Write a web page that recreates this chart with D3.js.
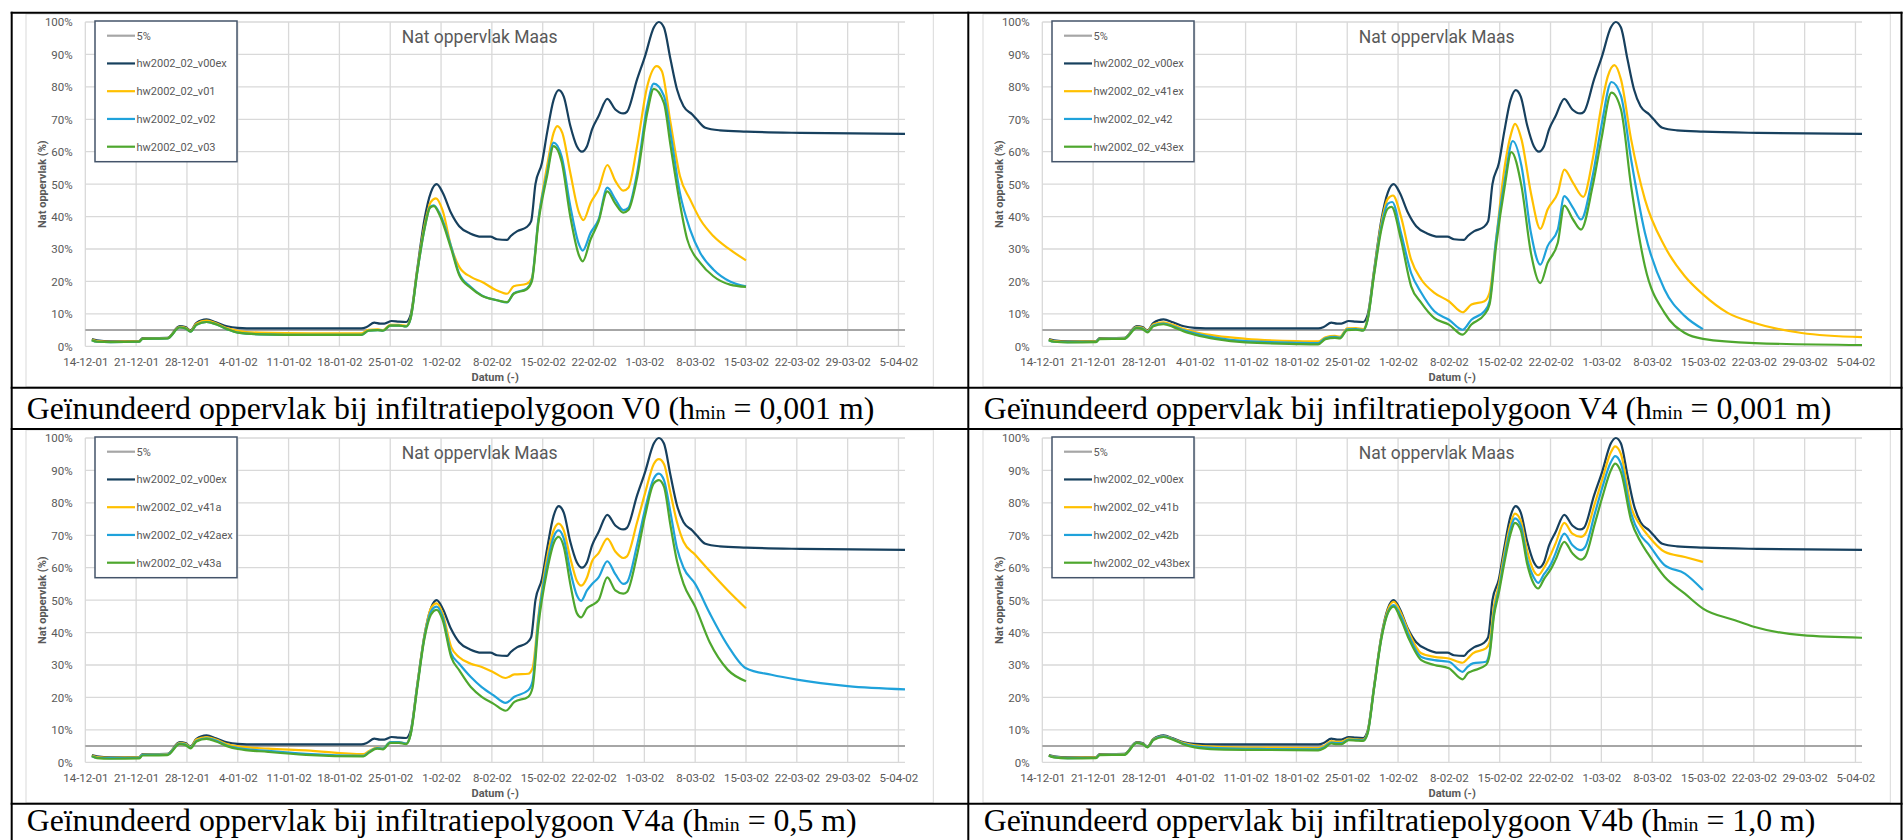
<!DOCTYPE html>
<html>
<head>
<meta charset="utf-8">
<script src="https://cdn.jsdelivr.net/npm/d3@7"></script>
<style>
  html, body { margin: 0; padding: 0; background: #ffffff; overflow: hidden; }
  svg { display: block; }
</style>
</head>
<body>
<svg id="fig" width="1903" height="840"></svg>
<script>
// ---- data: day offsets from 14-12-2001, value = wetted area in % ----
const startDate = "2001-12-14";
const lastDay = 112.9;

const tickLabels = ["14-12-01","21-12-01","28-12-01","4-01-02","11-01-02","18-01-02","25-01-02",
  "1-02-02","8-02-02","15-02-02","22-02-02","1-03-02","8-03-02","15-03-02","22-03-02","29-03-02","5-04-02"];
const yTicks = [0, 10, 20, 30, 40, 50, 60, 70, 80, 90, 100];

const threshold = [[0, 5], [112.9, 5]];

const v00ex = [[0.9,2.2],[1.6,1.8],[3.5,1.5],[7.4,1.6],[7.9,2.5],[11.3,2.6],[13,6.2],[13.8,5.9],[14.5,4.9],
  [15.3,7.2],[16.7,8.3],[18,7.4],[19.5,6.2],[21,5.7],[24,5.5],[31,5.5],[38,5.5],[38.8,6],[39.8,7.3],[40.6,7],
  [41.2,7],[42.2,7.8],[43.2,7.6],[44.2,7.5],[44.8,9.6],[45.7,23.5],[46.7,39],[47.6,47.5],[48.4,50],[49.2,47.5],
  [50.4,41],[51.5,37],[53,34.8],[54.6,33.8],[55.8,33.8],[56.7,33],[58.1,32.8],[58.6,34],[59.5,35.5],[60.8,36.8],
  [61.4,38.5],[62,50],[62.9,56.6],[63.6,65.8],[64.5,76],[65.2,79],[65.9,77],[66.8,68],[67.7,61.7],[68.4,60],
  [69.1,61.7],[69.8,66.9],[70.7,71],[71.9,76.3],[73,73],[74.1,71.8],[74.6,72.3],[76,82.3],[77.1,89.5],[78.3,98.3],
  [79,100],[79.7,98.3],[80.6,88.5],[81.5,79.2],[82.4,74],[83.6,71.5],[84.2,70],[85.4,67.4],[87.4,66.6],[91.1,66.2],
  [98.5,65.8],[112.9,65.5]];

// V0
const v01 = [[0.9,2.1],[1.6,1.6],[3.5,1.4],[7.4,1.5],[7.9,2.4],[11.3,2.5],[13,6],[13.8,5.7],[14.5,4.7],[15.3,7],
  [16.7,7.9],[18,7.1],[19.5,5.6],[21,4.8],[24,4.2],[31,4],[38,4],[39,5.1],[40.3,5.2],[41,5],[42,6.6],[43.2,6.6],
  [44.2,6.3],[44.8,8.8],[45.7,23],[46.7,37],[47.6,44.5],[48.3,45.6],[49.2,42],[50.4,30.7],[51.5,24.5],[53.1,21.4],
  [54.6,19.9],[56.7,17.2],[58.1,16.2],[59,18.5],[60.8,19.3],[61.5,21],[62.4,39],[63.6,55.5],[64.5,65.8],[65,67.9],
  [65.7,65.8],[66.8,53.5],[68,41.2],[68.6,38.9],[69.6,44.2],[70.7,48.4],[71.9,55.9],[73,51],[74.1,48],[74.8,48.9],
  [76,61.7],[77.4,80.2],[78.7,86.4],[79.4,84.9],[80.6,69],[81.9,52.5],[83.3,45.3],[84.7,39.1],[86.5,34],[88.8,29.8],[91,26.5]];
const v02 = [[0.9,1.9],[1.6,1.4],[3.5,1.3],[7.4,1.4],[7.9,2.3],[11.3,2.4],[13,5.8],[13.8,5.5],[14.5,4.5],[15.3,6.6],
  [16.7,7.5],[18,6.8],[19.5,5.3],[21,4.2],[24,3.7],[31,3.5],[38,3.5],[39,4.8],[40.3,5],[41,4.8],[42,6.4],[43.2,6.4],
  [44.2,6.1],[44.8,8.5],[45.7,22.5],[46.7,36],[47.5,43],[48,43.5],[48.8,41],[50.4,30.7],[51.5,22.4],[53.1,18.3],
  [54.6,15.7],[56.7,14.2],[58.1,13.5],[59,16.3],[60.8,17.8],[61.5,20.5],[62.4,39],[63.6,53.5],[64.5,62.8],[65.6,58.6],
  [66.8,43.2],[68,31.4],[68.5,29.5],[69.6,35],[70.7,39.1],[71.9,48.9],[73,45.3],[74.1,42],[74.8,42.7],[76,53.5],
  [77.4,74],[78.3,81],[79.7,77.2],[80.6,65.8],[81.9,47.3],[83.3,36],[84.7,28.8],[86.5,23.7],[88.8,20],[91,18.5]];
const v03 = [[0.9,1.9],[1.6,1.4],[3.5,1.3],[7.4,1.4],[7.9,2.3],[11.3,2.4],[13,5.8],[13.8,5.5],[14.5,4.5],[15.3,6.6],
  [16.7,7.5],[18,6.8],[19.5,5.3],[21,4.2],[24,3.7],[31,3.5],[38,3.5],[39,4.8],[40.3,5],[41,4.8],[42,6.4],[43.2,6.4],
  [44.2,6.1],[44.8,8.5],[45.7,22.5],[46.7,36],[47.5,42.8],[48,43.2],[48.8,40.5],[50.4,30],[51.5,22],[53.1,18],
  [54.6,15.6],[56.7,14.2],[58.1,13.6],[59,16.2],[60.8,17.6],[61.5,20],[62.4,38],[63.6,52.5],[64.5,61.7],[65.6,57],
  [66.8,40],[68,28],[68.5,26.2],[69.6,33],[70.7,38.5],[71.9,47.8],[73,44],[74.1,41.2],[74.8,42],[76,52],
  [77.4,72],[78.3,79.4],[79.7,75],[80.6,62],[81.9,44],[82.9,33],[84.7,25.7],[86.5,21.6],[88.8,19],[91,18.3]];

// V4
const v41ex = [[0.9,2.1],[1.6,1.6],[3.5,1.4],[7.4,1.5],[7.9,2.4],[11.3,2.5],[13,6],[13.8,5.7],[14.5,4.7],[15.3,6.8],
  [16.7,7.4],[18,6.6],[19.5,5.3],[21,4.4],[24,3.2],[28,2.3],[35,1.6],[38,1.5],[39,2.8],[40.3,3.2],[41,3],[42,5.5],
  [43.2,5.6],[44.2,5.3],[44.8,8.5],[45.7,23],[46.7,38],[47.6,45.5],[48.3,46.5],[49.4,40],[50.8,26.7],[52.2,20.6],
  [54,16.5],[56,13.9],[57.9,10.5],[59.1,12.9],[60.9,13.9],[61.6,16.5],[62.5,32.9],[63.7,55.6],[64.6,65.8],[65.1,68.6],
  [66,63.8],[67.3,47.3],[68.6,36.2],[69.6,42.2],[71,47.3],[71.9,54.5],[73.1,50.4],[74.5,46.1],[75.8,57.6],[77,74],
  [77.9,83.3],[78.8,86.7],[79.7,82.3],[81.1,63.8],[83,45.3],[85.7,30.9],[88.5,21.6],[91,16],[94.4,10.3],[98.1,7.2],
  [104.6,4.1],[112.9,2.8]];
const v42 = [[0.9,1.9],[1.6,1.4],[3.5,1.3],[7.4,1.4],[7.9,2.3],[11.3,2.4],[13,5.8],[13.8,5.5],[14.5,4.5],[15.3,6.4],
  [16.7,7],[18,6.2],[19.5,4.9],[21,4],[24,2.6],[28,1.6],[35,1.1],[38,1],[39,2.5],[40.3,2.9],[41,2.7],[42,5.2],
  [43.2,5.3],[44.2,5],[44.8,8.2],[45.7,22.5],[46.7,37],[47.6,44],[48.2,44.5],[49.4,35],[50.8,22.6],[52.2,16.5],
  [54,10.8],[56,8.2],[57.9,5.1],[59.1,8.2],[60.9,10.8],[61.6,13.9],[62.5,32.9],[63.7,51.4],[64.8,63.3],[66,55.6],
  [67.3,35],[68.6,25.2],[69.6,30.9],[71,36],[71.9,46.3],[73.1,42.7],[74.2,39.1],[75.8,52.5],[77,67.9],[78.4,81.5],
  [79.7,77.2],[81.1,57.6],[83,35],[85.7,17.5],[88.5,9.3],[91,5.3]];
const v43ex = [[0.9,1.9],[1.6,1.4],[3.5,1.2],[7.4,1.3],[7.9,2.2],[11.3,2.3],[13,5.6],[13.8,5.3],[14.5,4.3],[15.3,6.2],
  [16.7,6.8],[18,6],[19.5,4.6],[21,3.6],[24,2.2],[28,1.2],[35,0.7],[38,0.6],[39,2.2],[40.3,2.6],[41,2.4],[42,5],
  [43.2,5.1],[44.2,4.8],[44.8,8],[45.7,22],[46.7,36],[47.6,42.5],[48.1,43],[49.4,32.9],[50.8,18.5],[52.2,13.4],
  [54,8.7],[56,6.7],[57.9,3.6],[59.1,6.7],[60.9,9.8],[61.6,12.9],[62.5,30.9],[63.7,49.4],[64.6,59.9],[66,49.4],
  [67.3,28.8],[68.6,19.5],[69.6,25.7],[71,31.9],[71.9,43.4],[73.1,39.1],[74.2,36],[75.8,49.4],[77,63.8],[78.4,78.2],
  [79.7,73],[81.1,49.4],[83,24.7],[85.7,10.3],[88.5,4.1],[91,2.3],[98.1,1],[112.9,0.4]];

// V4a
const v41a = [[0.9,2.1],[1.6,1.6],[3.5,1.4],[7.4,1.5],[7.9,2.4],[11.3,2.5],[13,6],[13.8,5.7],[14.5,4.7],[15.3,7],
  [16.7,7.8],[18,7],[19.5,5.6],[21,4.9],[25.2,4.2],[30.4,3.7],[38.3,2.5],[39.1,3.5],[40.2,4.5],[41,4.3],[42,6.2],
  [43.2,6.2],[44.2,5.8],[44.8,8.8],[45.7,23.5],[46.7,39],[47.6,47.5],[48.4,49],[49.2,46],[50.4,35.5],[51.5,32.4],
  [53.1,30.4],[54.6,29.4],[56.2,27.8],[57.9,26],[59.1,27.1],[61,27.3],[61.6,29],[62.4,45],[63.6,63],[64.6,72],
  [65.2,73.6],[65.9,71.5],[66.8,63],[67.7,56],[68.3,54.5],[69.1,57],[69.8,62],[70.7,64.5],[71.9,69],[73,65],
  [74.1,63],[74.6,63.5],[76,74],[77.1,83],[78.3,92],[79,93.5],[79.7,92],[80.6,83],[81.5,74],[82.4,68],[84,64],
  [86,59],[88.5,53],[91,47.5]];
const v42aex = [[0.9,1.9],[1.6,1.4],[3.5,1.3],[7.4,1.4],[7.9,2.3],[11.3,2.4],[13,5.8],[13.8,5.5],[14.5,4.5],[15.3,6.6],
  [16.7,7.4],[18,6.7],[19.5,5.2],[21,4.4],[25.2,3.5],[30.4,2.6],[38.3,2],[39.1,3.2],[40.2,4.4],[41,4.2],[42,6.2],
  [43.2,6.2],[44.2,5.8],[44.8,8.6],[45.7,23],[46.7,38.5],[47.6,46.5],[48.4,48],[49.2,45],[50.4,33.5],[51.5,30.4],
  [53.1,26.3],[54.6,23.2],[56.2,20.7],[57.9,18.3],[59.1,20.2],[61,22.2],[61.6,25],[62.4,44],[63.6,61],[64.6,70],
  [65.2,71.5],[65.9,69],[66.8,59],[67.7,51.5],[68.3,49.8],[69.1,53],[69.8,55],[70.7,57],[71.9,62],[73,58],[74.1,55],
  [74.6,55.5],[76,67],[77.1,78],[78.3,87.5],[79,89],[79.7,87],[80.6,77],[81.5,66],[82.4,60],[84,55],[86,46],
  [88.5,36],[91,29],[94.5,27],[98,25.5],[105,23.5],[112.9,22.5]];
const v43a = [[0.9,1.9],[1.6,1.3],[3.5,1.1],[7.4,1.2],[7.9,2.1],[11.3,2.2],[13,5.6],[13.8,5.3],[14.5,4.3],[15.3,6.4],
  [16.7,7.2],[18,6.4],[19.5,5],[21,4.1],[25.2,3.2],[30.4,2.3],[38.3,1.8],[39.1,3],[40.2,4.2],[41,4],[42,6],
  [43.2,6],[44.2,5.6],[44.8,8.4],[45.7,22.5],[46.7,38],[47.6,45.5],[48.4,47],[49.2,44],[50.4,32.4],[51.5,28.4],
  [53.1,23.2],[54.6,20.2],[56.2,18.1],[57.9,15.9],[59.1,18.6],[61,20.2],[61.6,23],[62.4,42],[63.6,59],[64.6,68],
  [65.2,69.5],[65.9,66.5],[66.8,55],[67.7,46],[68.3,44.7],[69.1,47.5],[69.8,48.5],[70.7,50],[71.9,57],[73,53],
  [74.1,52],[74.6,52.5],[76,64],[77.1,76],[78.3,86],[79,87],[79.7,85],[80.6,73],[81.5,62],[82.4,55],[84,48],
  [86,37],[88.5,28.5],[91,25]];

// V4b
const v41b = [[0.9,2.1],[1.6,1.7],[3.5,1.4],[7.4,1.5],[7.9,2.4],[11.3,2.5],[13,6.1],[13.8,5.8],[14.5,4.8],[15.3,7.1],
  [16.7,8.1],[18,7.2],[19.5,5.9],[21,5.2],[24,4.8],[31,4.5],[38,4.4],[38.8,5],[39.8,6.5],[40.6,6.3],[41.2,6.3],
  [42.2,7.3],[43.2,7.1],[44.2,7],[44.8,9.3],[45.7,23.3],[46.7,38.7],[47.6,47],[48.4,49.5],[49.4,46],[50.5,40],
  [52.2,33.6],[54,32.5],[56,32],[57.9,30.7],[58.6,32],[59.3,33.6],[61.1,35.1],[61.6,37],[62.2,48],[62.9,55],
  [63.6,64],[64.5,73.5],[65.1,76.7],[65.9,74.5],[66.8,65],[67.7,59],[68.3,57.7],[69.1,60],[70.1,64.4],[70.7,67.5],
  [71.9,73.8],[73,70.5],[74.2,69.5],[74.8,70.5],[76.1,79.8],[77.1,87],[78.3,95.5],[78.9,97.4],[79.7,95],[81.1,78.7],
  [82.4,73],[83.4,70],[85.7,64.9],[88.5,63.3],[91,61.8]];
const v42b = [[0.9,2],[1.6,1.6],[3.5,1.3],[7.4,1.4],[7.9,2.3],[11.3,2.4],[13,6],[13.8,5.7],[14.5,4.7],[15.3,7],
  [16.7,8],[18,7.1],[19.5,5.7],[21,4.9],[24,4.4],[31,4.1],[38,4],[38.8,4.6],[39.8,6.1],[40.6,5.9],[41.2,5.9],
  [42.2,7],[43.2,6.9],[44.2,6.8],[44.8,9],[45.7,23],[46.7,38.3],[47.6,46.3],[48.4,48.5],[49.4,45],[50.5,39],
  [52.2,32.5],[54,31.5],[56,31],[57.9,27.9],[58.6,29.5],[59.3,30.5],[61.1,31],[61.6,34],[62.2,46],[62.9,53.5],
  [63.6,62.5],[64.5,72],[65.1,75.2],[65.9,73],[66.8,62.5],[67.7,57],[68.3,55.3],[69.1,58],[70.1,61.3],[70.7,64.5],
  [71.9,70.5],[73,67],[74.2,65.4],[74.8,66.5],[76.1,76.7],[77.1,84.5],[78.3,92.5],[78.9,94.4],[79.7,92],[81.1,76.7],
  [82.4,70],[83.4,67.5],[85.7,60.8],[88.5,58.2],[91,53.1]];
const v43bex = [[0.9,2],[1.6,1.5],[3.5,1.2],[7.4,1.3],[7.9,2.2],[11.3,2.3],[13,5.9],[13.8,5.6],[14.5,4.6],[15.3,6.9],
  [16.7,7.8],[18,7],[19.5,5.5],[21,4.6],[24,4],[31,3.8],[38,3.7],[38.8,4.3],[39.8,5.8],[40.6,5.6],[41.2,5.6],
  [42.2,6.8],[43.2,6.7],[44.2,6.6],[44.8,8.8],[45.7,22.8],[46.7,38],[47.6,46],[48.4,48],[49.4,44],[50.5,38],
  [52.2,31.5],[54,30],[56,29],[57.9,25.6],[58.6,27.5],[59.3,28.2],[61.1,30],[61.6,33],[62.2,45],[62.9,52.5],
  [63.6,61],[64.5,70.5],[65.1,73.8],[65.9,71.5],[66.8,61],[67.7,55],[68.3,53.6],[69.1,56.5],[70.1,59.8],[70.7,62.5],
  [71.9,68],[73,64.5],[74.2,62.5],[74.8,63.5],[76.1,73.6],[77.1,81.5],[78.3,90],[78.9,92.1],[79.7,89.5],[81.1,74.6],
  [82.4,68],[83.4,64.4],[85.7,57.2],[88.5,52],[91,47.4],[95.4,43.8],[98,41.8],[104.6,39.2],[112.9,38.4]];

const seriesColors = ["#A6A6A6", "#17405E", "#FFC000", "#1FA2DB", "#4EA72E"];

const panels = [
  { caption: ["Geïnundeerd oppervlak bij infiltratiepolygoon V0 (h", "min", " = 0,001 m)"],
    names: ["5%", "hw2002_02_v00ex", "hw2002_02_v01", "hw2002_02_v02", "hw2002_02_v03"],
    data: [threshold, v00ex, v01, v02, v03] },
  { caption: ["Geïnundeerd oppervlak bij infiltratiepolygoon V4 (h", "min", " = 0,001 m)"],
    names: ["5%", "hw2002_02_v00ex", "hw2002_02_v41ex", "hw2002_02_v42", "hw2002_02_v43ex"],
    data: [threshold, v00ex, v41ex, v42, v43ex] },
  { caption: ["Geïnundeerd oppervlak bij infiltratiepolygoon V4a (h", "min", " = 0,5 m)"],
    names: ["5%", "hw2002_02_v00ex", "hw2002_02_v41a", "hw2002_02_v42aex", "hw2002_02_v43a"],
    data: [threshold, v00ex, v41a, v42aex, v43a] },
  { caption: ["Geïnundeerd oppervlak bij infiltratiepolygoon V4b (h", "min", " = 1,0 m)"],
    names: ["5%", "hw2002_02_v00ex", "hw2002_02_v41b", "hw2002_02_v42b", "hw2002_02_v43bex"],
    data: [threshold, v00ex, v41b, v42b, v43bex] }
];

// ---- layout ----
const W = 1903, H = 840;
const colOffset = [0, 957];
const rowOffset = [0, 416];
const chartBox = { x0: 26, y0: 14, x1: 933.3, y1: 386.7 };
const plot = { left: 85.3, right: 905, top: 22, bottom: 346.3 };
const captionBaseline = [419, 831 - 416];
const sans = "Roboto, 'Liberation Sans', Arial, sans-serif";
const serif = "'Liberation Serif', 'DejaVu Serif', serif";
const textGray = "#595959";

const svg = d3.select("#fig");
svg.append("rect").attr("width", W).attr("height", H).attr("fill", "#ffffff");

const parseTick = d3.utcParse("%d-%m-%y");
const base = d3.utcParse("%Y-%m-%d")(startDate);
const dayToDate = d => new Date(base.getTime() + d * 864e5);
const tickDates = tickLabels.map(parseTick);

const x = d3.scaleUtc().domain([base, dayToDate(lastDay)]).range([plot.left, plot.right]);
const y = d3.scaleLinear().domain([0, 100]).range([plot.bottom, plot.top]);

const line = d3.line()
  .x(d => x(dayToDate(d[0])))
  .y(d => y(d[1]))
  .curve(d3.curveMonotoneX);

panels.forEach((p, i) => {
  const row = Math.floor(i / 2);
  const g = svg.append("g")
    .attr("transform", `translate(${colOffset[i % 2]},${rowOffset[row]})`);

  // chart frame
  g.append("rect")
    .attr("x", chartBox.x0).attr("y", chartBox.y0)
    .attr("width", chartBox.x1 - chartBox.x0).attr("height", chartBox.y1 - chartBox.y0)
    .attr("fill", "#ffffff").attr("stroke", "#D9D9D9").attr("stroke-width", 1);

  // gridlines
  g.append("g").selectAll("line").data(yTicks).join("line")
    .attr("x1", plot.left).attr("x2", plot.right)
    .attr("y1", d => y(d)).attr("y2", d => y(d))
    .attr("stroke", "#D9D9D9").attr("stroke-width", 1.3);
  g.append("g").selectAll("line").data(tickDates).join("line")
    .attr("x1", d => x(d)).attr("x2", d => x(d))
    .attr("y1", plot.top).attr("y2", plot.bottom)
    .attr("stroke", "#D9D9D9").attr("stroke-width", 1.3);

  // axes (labels only)
  const yAxis = g.append("g")
    .attr("transform", `translate(${plot.left - 12.6},0)`)
    .call(d3.axisLeft(y).tickValues(yTicks).tickSize(0).tickFormat(d => d + "%"));
  yAxis.select(".domain").remove();
  yAxis.selectAll("text").attr("font-family", sans).attr("font-size", 11.5)
    .attr("fill", textGray).attr("x", 0).attr("dy", "0.34em");

  const fmt = d3.utcFormat("%-d-%m-%y");
  const xAxis = g.append("g")
    .attr("transform", `translate(0,${plot.bottom})`)
    .call(d3.axisBottom(x).tickValues(tickDates).tickSize(0).tickFormat(fmt));
  xAxis.select(".domain").remove();
  xAxis.selectAll("text").attr("font-family", sans).attr("font-size", 11.5)
    .attr("fill", textGray).attr("y", 16).attr("dy", "0.34em");

  // axis titles
  g.append("text")
    .attr("transform", `translate(42,${(plot.top + plot.bottom) / 2}) rotate(-90)`)
    .attr("text-anchor", "middle").attr("dy", "0.35em")
    .attr("font-family", sans).attr("font-size", 11).attr("font-weight", "bold")
    .attr("fill", textGray).text("Nat oppervlak (%)");
  g.append("text")
    .attr("x", (plot.left + plot.right) / 2).attr("y", 377).attr("dy", "0.35em")
    .attr("text-anchor", "middle")
    .attr("font-family", sans).attr("font-size", 11).attr("font-weight", "bold")
    .attr("fill", textGray).text("Datum (-)");

  // chart title
  g.append("text")
    .attr("x", (chartBox.x0 + chartBox.x1) / 2).attr("y", 36.7).attr("dy", "0.35em")
    .attr("text-anchor", "middle")
    .attr("font-family", sans).attr("font-size", 17.5)
    .attr("fill", textGray).text("Nat oppervlak Maas");

  // series
  p.data.forEach((vals, k) => {
    g.append("path")
      .datum(vals)
      .attr("d", line)
      .attr("fill", "none")
      .attr("stroke", seriesColors[k])
      .attr("stroke-width", k === 0 ? 2 : 2.2)
      .attr("stroke-linejoin", "round");
  });

  // legend
  const lg = g.append("g");
  lg.append("rect").attr("x", 95).attr("y", 21).attr("width", 142).attr("height", 140.7)
    .attr("fill", "#ffffff").attr("stroke", "#44546A").attr("stroke-width", 1.5);
  p.names.forEach((n, k) => {
    const yy = 35.7 + k * 27.75;
    lg.append("line").attr("x1", 107).attr("x2", 135).attr("y1", yy).attr("y2", yy)
      .attr("stroke", seriesColors[k]).attr("stroke-width", 2.2);
    lg.append("text").attr("x", 136.5).attr("y", yy).attr("dy", "0.35em")
      .attr("font-family", sans).attr("font-size", 11)
      .attr("fill", textGray).text(n);
  });

  // caption
  const cap = g.append("text")
    .attr("class", "caption")
    .attr("x", 26.7).attr("y", captionBaseline[row])
    .attr("font-family", serif).attr("font-size", 30).attr("fill", "#000000");
  cap.append("tspan").text(p.caption[0]);
  cap.append("tspan").attr("font-size", "62%").text(p.caption[1]);
  cap.append("tspan").text(p.caption[2]);
});

// fit caption size to the cell width used by the first caption
const caps = svg.selectAll("text.caption");
const w0 = caps.node().getComputedTextLength();
const capSize = 30 * 848 / w0;
caps.attr("font-size", capSize);

// table rules
const rules = svg.append("g").attr("stroke", "#000000").attr("stroke-width", 2);
[12.7, 387.7, 429, 803.7].forEach(yy => {
  rules.append("line").attr("x1", 10.7).attr("x2", 1902.5).attr("y1", yy).attr("y2", yy);
});
[11.7, 968.3, 1901.5].forEach(xx => {
  rules.append("line").attr("x1", xx).attr("x2", xx).attr("y1", 11.7).attr("y2", 845);
});
</script>
</body>
</html>
